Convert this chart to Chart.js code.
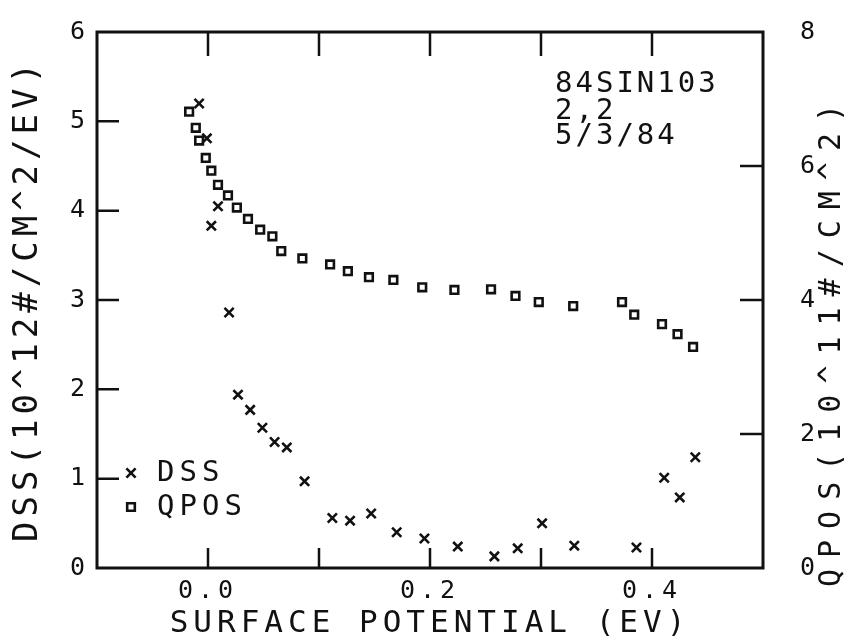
<!DOCTYPE html>
<html>
<head>
<meta charset="utf-8">
<script src="https://cdn.jsdelivr.net/npm/chart.js@4.4.1/dist/chart.umd.min.js"></script>
<style>
  html, body { margin:0; padding:0; background:#fff; }
  #wrap { width:858px; height:639px; }
</style>
</head>
<body>
<div id="wrap"><canvas id="chart" width="858" height="639"></canvas></div>
<script>
// surface potential (EV) for each QPOS point, and QPOS (10^11 #/cm^2)
const QPOS_X = [-0.017, -0.011, -0.008, -0.002, 0.003, 0.009, 0.018, 0.026, 0.036, 0.047, 0.058, 0.066, 0.085, 0.110,
                0.126, 0.145, 0.167, 0.193, 0.222, 0.255, 0.277, 0.298, 0.329, 0.373, 0.384, 0.409, 0.423, 0.437];
const QPOS_Y = [6.81, 6.57, 6.38, 6.12, 5.93, 5.72, 5.56, 5.38, 5.21, 5.05, 4.95, 4.73, 4.62, 4.53,
                4.43, 4.34, 4.30, 4.19, 4.15, 4.16, 4.06, 3.97, 3.91, 3.97, 3.78, 3.64, 3.49, 3.30];
// DSS (10^12 #/cm^2/EV)
const DSS_X = [-0.008, -0.001, 0.009, 0.003, 0.019, 0.027, 0.038, 0.049, 0.060, 0.071, 0.087, 0.112, 0.128,
               0.147, 0.170, 0.195, 0.225, 0.258, 0.279, 0.301, 0.330, 0.386, 0.411, 0.425, 0.439];
const DSS_Y = [5.20, 4.81, 4.05, 3.83, 2.86, 1.94, 1.77, 1.57, 1.41, 1.35, 0.97, 0.56, 0.53,
               0.61, 0.40, 0.33, 0.24, 0.13, 0.22, 0.50, 0.25, 0.23, 1.01, 0.79, 1.24];

const X_TICKS = [0.0, 0.1, 0.2, 0.3, 0.4];
const X_LABELS = [0.0, 0.2, 0.4];
const Y_TICKS = [1, 2, 3, 4, 5];
const Y2_TICKS = [2, 4, 6];
const NOTE_LINES = ['84SIN103', '2,2', '5/3/84'];

const FONT = "'DejaVu Sans Mono', 'Liberation Mono', monospace";
const INK = '#111';

const dssPts = DSS_X.map((x, i) => ({ x, y: DSS_Y[i] }));
const qposPts = QPOS_X.map((x, i) => ({ x, y: QPOS_Y[i] }));

// frame, inward tick marks, note text, legend, right title
const plotterDecor = {
  id: 'plotterDecor',
  beforeDraw(chart) {
    chart.ctx.letterSpacing = '5px';
  },
  afterDraw(chart) {
    const ctx = chart.ctx, a = chart.chartArea;
    const sx = chart.scales.x, sy = chart.scales.y, sy2 = chart.scales.y2;
    ctx.save();
    ctx.strokeStyle = INK;
    ctx.lineWidth = 3;
    ctx.strokeRect(a.left, a.top, a.right - a.left, a.bottom - a.top);
    ctx.lineWidth = 2.5;
    ctx.beginPath();
    X_TICKS.forEach(v => {
      const px = sx.getPixelForValue(v);
      ctx.moveTo(px, a.bottom); ctx.lineTo(px, a.bottom - 20);
      ctx.moveTo(px, a.top); ctx.lineTo(px, a.top + 24);
    });
    Y_TICKS.forEach(v => {
      const py = sy.getPixelForValue(v);
      ctx.moveTo(a.left, py); ctx.lineTo(a.left + 22, py);
    });
    Y2_TICKS.forEach(v => {
      const py = sy2.getPixelForValue(v);
      ctx.moveTo(a.right, py); ctx.lineTo(a.right - 23, py);
    });
    ctx.stroke();

    ctx.fillStyle = INK;
    ctx.textBaseline = 'middle';
    ctx.textAlign = 'left';
    ctx.font = '29px ' + FONT;
    ctx.letterSpacing = '3px';
    [84, 111, 136].forEach((y, i) => ctx.fillText(NOTE_LINES[i], 555, y));

    // legend
    ctx.font = '29px ' + FONT;
    ctx.letterSpacing = '5px';
    chart.data.datasets.forEach((ds, i) => {
      const y = [473, 507][i];
      ctx.fillStyle = ds.backgroundColor;
      ctx.strokeStyle = ds.borderColor;
      ctx.lineWidth = ds.borderWidth;
      Chart.helpers.drawPoint(ctx, {
        pointStyle: ds.pointStyle, radius: ds.pointRadius, borderWidth: ds.borderWidth
      }, 131, y);
      ctx.fillStyle = INK;
      ctx.fillText(ds.label, 157, y);
    });

    // right axis title, reading upward
    ctx.translate(832, 340);
    ctx.rotate(-Math.PI / 2);
    ctx.textAlign = 'center';
    ctx.font = '30px ' + FONT;
    ctx.letterSpacing = '11px';
    ctx.fillText('QPOS(10^11#/CM^2)', 0, 0);
    ctx.restore();
  }
};

const noPadY = s => { s.paddingTop = 0; s.paddingBottom = 0; };

new Chart(document.getElementById('chart'), {
  type: 'scatter',
  data: {
    datasets: [
      { label: 'DSS', data: dssPts, yAxisID: 'y', pointStyle: 'crossRot', pointRadius: 6.5,
        borderColor: INK, backgroundColor: INK, borderWidth: 2.6 },
      { label: 'QPOS', data: qposPts, yAxisID: 'y2', pointStyle: 'rect', pointRadius: 5.4,
        borderColor: INK, backgroundColor: '#fff', borderWidth: 2.6 }
    ]
  },
  options: {
    responsive: false,
    animation: false,
    devicePixelRatio: 1,
    layout: { padding: { top: 32, left: 0, right: 0, bottom: 0 } },
    plugins: { legend: { display: false }, tooltip: { enabled: false } },
    scales: {
      x: {
        type: 'linear', min: -0.1, max: 0.5,
        grid: { display: false, drawTicks: false }, border: { display: false },
        afterFit: s => { s.height = 71; s.paddingLeft = 0; s.paddingRight = 0; },
        ticks: {
          stepSize: 0.1, padding: 8, color: INK, font: { family: FONT, size: 25 }, maxRotation: 0,
          callback: v => X_LABELS.some(l => Math.abs(l - v) < 1e-6) ? Math.abs(v).toFixed(1) : ''
        },
        title: { display: true, text: 'SURFACE POTENTIAL (EV)', color: INK,
                 font: { family: FONT, size: 31 }, padding: { top: 0, bottom: -4 } }
      },
      y: {
        position: 'left', min: 0, max: 6,
        grid: { display: false, drawTicks: false }, border: { display: false },
        afterFit: s => { s.width = 97; noPadY(s); },
        ticks: { stepSize: 1, padding: 7, color: INK, font: { family: FONT, size: 25 } },
        title: { display: true, text: 'DSS(10^12#/CM^2/EV)', color: INK,
                 font: { family: FONT, size: 34 }, padding: { top: 8, bottom: 0 } }
      },
      y2: {
        position: 'right', min: 0, max: 8,
        grid: { display: false, drawTicks: false }, border: { display: false },
        afterFit: s => { s.width = 95; noPadY(s); },
        ticks: { stepSize: 2, padding: 37, color: INK, font: { family: FONT, size: 25 } }
      }
    }
  },
  plugins: [plotterDecor]
});
</script>
</body>
</html>
